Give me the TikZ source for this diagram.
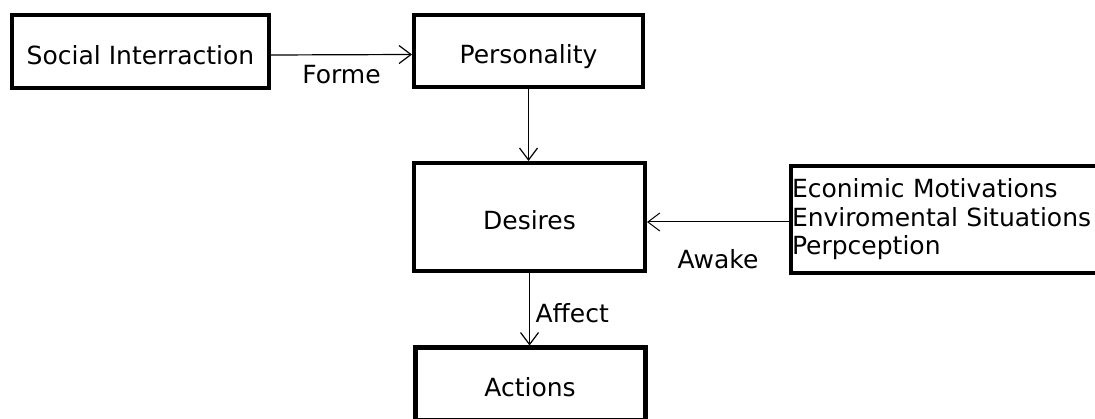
\documentclass[tikz,border=0pt]{standalone}
\usepackage{fontspec}
\setmainfont{DejaVu Sans}
\usetikzlibrary{arrows.meta}
\usetikzlibrary{positioning}
\tikzset{box/.style = {draw, line width = 4pt, inner sep = 0,
                       text height = 26pt, text depth = 0pt}}
\tikzset{thickbox/.style = {box, line width = 5pt}}
\tikzset{listbox/.style = {draw, line width = 4pt, inner xsep = 1pt,
                           inner ysep = 0, align = left}}
\tikzset{flow/.style = {-{Straight Barb[length = 12pt, width = 18pt]},
                        line width = 1.2pt}}
\tikzset{lbl/.style = {inner sep = 1pt}}

\begin{document}
\begin{tikzpicture}[x = 1pt, y = -1pt, font = \fontsize{25}{28.5}\selectfont]
    \useasboundingbox (0, 0) rectangle (1095, 419);
    \clip (0, 0) rectangle (1095, 419);

    \node [box, minimum width = 257pt, minimum height = 73pt] (social) at (140.5, 51.5) {Social Interraction};
    \node [box, minimum width = 229pt, minimum height = 72pt] (person) at (528.5, 51) {Personality};
    \node [box, minimum width = 231pt, minimum height = 108pt] (desires) at (529.5, 217) {Desires};
    \node [thickbox, minimum width = 230pt, minimum height = 72pt] (actions) at (530, 384) {Actions};
    \node [listbox, anchor = north west, text width = 310pt, minimum height = 107pt] (factors) at (789, 164)
      {Econimic Motivations\\Enviromental Situations\\Perpception};

    \draw [flow] ([yshift = -3.5pt]social.east) -- ([yshift = -3.5pt]person.west)
      node [lbl, midway, below = 9pt] {Forme};
    \draw [flow] (person.south) -- (person.south |- desires.north);
    \draw [flow, line width = 1pt] ([yshift = -2.5pt]factors.west) -- ([yshift = -2.5pt]factors.west -| desires.east)
      node [lbl, midway, below = 26pt] {Awake};
    \draw [flow] (desires.south) -- (desires.south |- actions.north)
      node [lbl, pos = 0.56, right = 4.5pt] {Affect};
  \end{tikzpicture}
\end{document}
